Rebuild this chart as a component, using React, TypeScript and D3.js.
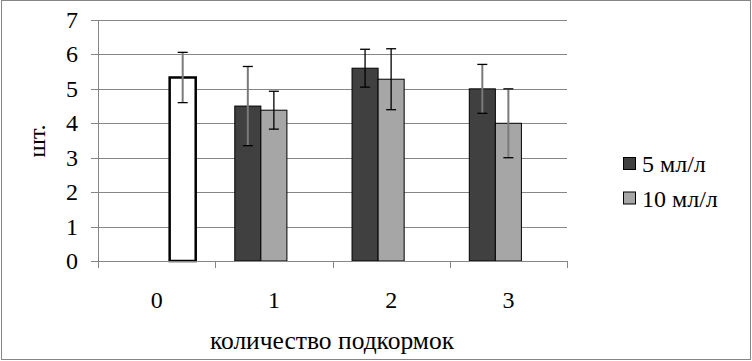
import React from "react";
import * as d3 from "d3";

const categories = ["0", "1", "2", "3"];
const seriesNames = ["5 мл/л", "10 мл/л"];
const values5 = [null, 4.5, 5.6, 5.0];
const err5 = [null, 1.15, 0.55, 0.71];
const values10 = [null, 4.38, 5.28, 4.0];
const err10 = [null, 0.55, 0.885, 1.0];
const valuesCtrl = [5.33, null, null, null];
const errCtrl = [0.73, null, null, null];
const yTicks = [0, 1, 2, 3, 4, 5, 6, 7];

const W = 752;
const H = 361;
const FONT = "Liberation Serif, Times New Roman, DejaVu Serif, serif";

export default function App() {
  const left = 98, right = 567, top = 20, bottom = 261;
  const y = d3.scaleLinear().domain([0, 7]).range([bottom, top]);
  const x0 = d3.scaleBand().domain(categories).range([left, right]).padding(0);
  const cw = x0.bandwidth();
  const bw = cw / 4.5;
  const x1 = d3.scaleBand().domain(["s5", "s10", "ctrl"]).range([0, bw * 3]).padding(0);
  const off = (cw - bw * 3) / 2;

  const groups = [
    { key: "s5", vals: values5, errs: err5, fill: "#404040", stroke: "#000", sw: 1 },
    { key: "s10", vals: values10, errs: err10, fill: "#a6a6a6", stroke: "#000", sw: 1 },
    { key: "ctrl", vals: valuesCtrl, errs: errCtrl, fill: "#ffffff", stroke: "#000", sw: 2.5 },
  ];

  const grayErr: Record<string, boolean> = { "ctrl-0": true, "s5-1": true, "s10-3": true, "s5-3": true };

  const bars: React.ReactNode[] = [];
  const errs: React.ReactNode[] = [];
  groups.forEach((g) => {
    categories.forEach((c, i) => {
      const v = g.vals[i];
      if (v == null) return;
      const bx = (x0(c) as number) + off + (x1(g.key) as number);
      bars.push(
        <rect key={g.key + i} x={bx} y={y(v)} width={bw} height={y(0) - y(v)}
          fill={g.fill} stroke={g.stroke} strokeWidth={g.sw} />
      );
      const e = g.errs[i];
      if (e == null) return;
      const cx = bx + bw / 2;
      const gray = grayErr[g.key + "-" + i];
      errs.push(
        <g key={"e" + g.key + i}>
          <line x1={cx} x2={cx} y1={y(v + e)} y2={y(v - e)}
            stroke={gray ? "#7a7a7a" : "#000"} strokeWidth={gray ? 2 : 1.3} />
          <line x1={cx - 5} x2={cx + 5} y1={y(v + e)} y2={y(v + e)} stroke="#000" strokeWidth={1.3} />
          <line x1={cx - 5} x2={cx + 5} y1={y(v - e)} y2={y(v - e)} stroke="#000" strokeWidth={1.3} />
        </g>
      );
    });
  });

  const xTickPos = [...categories.map((c) => x0(c) as number), right];
  const ts = { fontFamily: FONT, fontSize: "24px" };

  return (
    <svg width={W} height={H} style={{ position: "absolute", left: 0, top: 0, background: "#fff", fontFamily: FONT }}>
      <rect x={1.5} y={0.5} width={749} height={359} fill="#fff" stroke="#868686" strokeWidth={1} />
      {yTicks.map((t) => (
        <g key={"gy" + t}>
          {t > 0 && (
            <line x1={left} x2={right} y1={Math.round(y(t)) + 0.5} y2={Math.round(y(t)) + 0.5}
              stroke="#868686" strokeWidth={1} />
          )}
          <line x1={left - 7} x2={left} y1={Math.round(y(t)) + 0.5} y2={Math.round(y(t)) + 0.5}
            stroke="#868686" strokeWidth={1} />
          <text x={78} y={y(t) + 8} textAnchor="end" style={ts} fill="#000">{t}</text>
        </g>
      ))}
      <line x1={left + 0.5} x2={left + 0.5} y1={top} y2={bottom} stroke="#868686" strokeWidth={1} />
      {bars}
      <line x1={left} x2={right} y1={bottom + 0.5} y2={bottom + 0.5} stroke="#868686" strokeWidth={1} />
      {xTickPos.map((p, i) => (
        <line key={"xt" + i} x1={Math.round(p) + 0.5} x2={Math.round(p) + 0.5} y1={bottom} y2={bottom + 7}
          stroke="#868686" strokeWidth={1} />
      ))}
      {errs}
      {categories.map((c) => (
        <text key={"xl" + c} x={(x0(c) as number) + cw / 2} y={308} textAnchor="middle" style={ts} fill="#000">{c}</text>
      ))}
      <text x={(left + right) / 2 - 0.5} y={349} textAnchor="middle" style={{ ...ts, fontSize: "25.5px" }} fill="#000">количество подкормок</text>
      <text transform="translate(44.5,141) rotate(-90)" textAnchor="middle" style={ts} fill="#000">шт.</text>
      {seriesNames.map((s, i) => (
        <g key={"lg" + i}>
          <rect x={623.5} y={157.5 + i * 34.5} width={12} height={12}
            fill={groups[i].fill} stroke="#000" strokeWidth={1} />
          <text x={642} y={172 + i * 35} style={ts} fill="#000">{s}</text>
        </g>
      ))}
    </svg>
  );
}
